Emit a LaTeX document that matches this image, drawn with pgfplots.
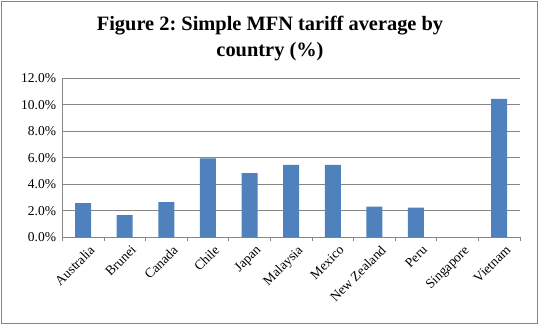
\documentclass[border=0pt]{standalone}
\usepackage{fontspec}
\setmainfont{Liberation Serif}
\usepackage{pgfplots}
\pgfplotsset{compat=1.18}
\definecolor{barblue}{HTML}{4F81BD}
\definecolor{gridgray}{HTML}{868686}
\frenchspacing
\begin{document}
\begin{tikzpicture}[x=1bp,y=1bp]
\begin{axis}[
  at={(62.3bp,87.7bp)}, anchor=south west,
  scale only axis, width=457.7bp, height=159bp,
  ymin=0, ymax=12, ytick={0,2,...,12},
  yticklabel={\pgfmathprintnumber[fixed,fixed zerofill,precision=1]{\tick}\%},
  /pgf/number format/assume math mode=true,
  xmin=-0.5, xmax=10.5,
  xtick=data,
  xticklabels={Australia,Brunei,Canada,Chile,Japan,Malaysia,Mexico,New Zealand,Peru,Singapore,Vietnam},
  x tick label style={rotate=45, anchor=north east, font=\fontsize{13.5bp}{15bp}\selectfont, inner sep=0bp, yshift=-9bp, xshift=-1bp},
  y tick label style={font=\fontsize{13.5bp}{15bp}\selectfont, inner sep=0bp, xshift=-6bp},
  ymajorgrids, grid style={gridgray, line width=0.8bp},
  axis line style={gridgray, line width=0.8bp},
  axis x line*=bottom, axis y line*=left,
  extra x ticks={-0.5,0.5,...,10.5}, extra x tick labels={},
  extra x tick style={major tick length=4bp, tick style={gridgray, line width=0.8bp}, xtick pos=bottom},
  major tick length=0pt,
  ytick style={gridgray, line width=0.8bp},
  tick align=outside,
  ybar, bar width=16bp,
  separate axis lines,
  clip=false,
]
\addplot[fill=barblue, draw=none] coordinates {
(0,2.57) (1,1.68) (2,2.66) (3,5.96) (4,4.85) (5,5.46) (6,5.46) (7,2.31) (8,2.24) (9,0) (10,10.44)};
\end{axis}
\node[font=\fontsize{20.4bp}{25bp}\selectfont\bfseries, anchor=base] at (270bp,294bp) {Figure 2: Simple MFN tariff average by};
\node[font=\fontsize{20.4bp}{25bp}\selectfont\bfseries, anchor=base] at (270bp,268.5bp) {country (\%)};
\draw[gridgray, line width=0.8bp] (1.5bp,1.5bp) rectangle (537.5bp,323.5bp);
\useasboundingbox (0,0) rectangle (539bp,325bp);
\end{tikzpicture}
\end{document}
